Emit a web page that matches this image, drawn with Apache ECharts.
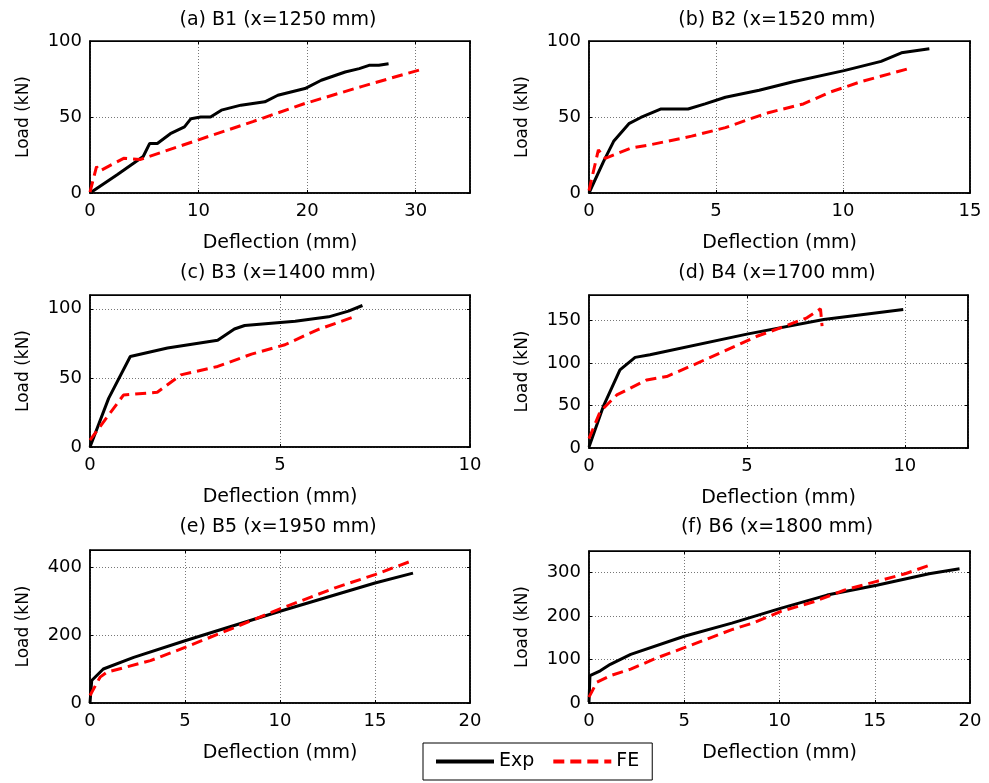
<!DOCTYPE html>
<html>
<head>
<meta charset="utf-8">
<script src="https://cdn.jsdelivr.net/npm/echarts@6/dist/echarts.min.js"></script>
<style>
  html, body { margin: 0; padding: 0; background: #fff; }
  #chart { width: 989px; height: 783px; }
</style>
</head>
<body>
<div id="chart"></div>
<script>
// panel titles
const titles = ['(a) B1 (x=1250 mm)', '(b) B2 (x=1520 mm)', '(c) B3 (x=1400 mm)',
    '(d) B4 (x=1700 mm)', '(e) B5 (x=1950 mm)', '(f) B6 (x=1800 mm)'];

// axis ranges
const xMax = [35, 15, 10, 12, 20, 20];
const xStep = [10, 5, 5, 5, 5, 5];
const yMax = [100, 100, 110, 180, 450, 350];
const yStep = [50, 50, 50, 50, 200, 100];

// experimental curves [deflection mm, load kN]
const expB1 = [[0, 0], [2.5, 12], [4.9, 24], [5.5, 32.6], [6.2, 32.6], [7.4, 39], [8.7, 43.5], [9.3, 48.9],
    [10.2, 50], [11.1, 50], [12.1, 54.5], [13.9, 57.8], [16.1, 60], [17.3, 64.3], [19.8, 68.7],
    [21.3, 74.2], [23.5, 79.6], [24.8, 81.8], [25.7, 84], [26.6, 84], [27.5, 85]];
const expB2 = [[0, 0], [0.57, 20.6], [0.97, 34], [1.57, 45.6], [2.04, 49.7], [2.84, 55.3], [3.9, 55.3],
    [4.57, 58.6], [5.37, 63], [6.7, 67.6], [8.04, 73.2], [10.04, 80.5], [11.5, 86.6], [12.3, 92.2], [13.4, 94.9]];
const expB3 = [[0, 0], [0.49, 35.2], [1.06, 65.5], [2.04, 71.6], [3.36, 77.2], [3.8, 85.4], [4.07, 87.9],
    [5.4, 91], [6.28, 94.2], [6.8, 98.3], [7.17, 102.4]];
const expB4 = [[0, 1.2], [0.45, 48.6], [0.98, 92], [1.46, 106.6], [1.93, 109.7], [5, 134], [7.43, 151.2], [9.95, 163]];
const expB5 = [[0, 0], [0.09, 66], [0.7, 100], [2.3, 134], [5, 183], [10, 270], [15, 353], [17, 382]];
const expB6 = [[0, 2.3], [0.05, 63], [0.59, 74], [1.12, 89], [2.19, 112], [5, 153.8], [7.5, 184], [10.05, 218],
    [12.5, 248.5], [15.1, 271], [17.85, 297.7], [19.45, 309]];

// finite element curves [deflection mm, load kN]
const feB1 = [[0, 0.6], [0.6, 17.3], [0.9, 14.5], [3.1, 22.8], [4.6, 22], [10, 35], [15, 47], [19.8, 58.9],
    [25, 70], [30.8, 81.9]];
const feB2 = [[0, 1.6], [0.37, 28.4], [0.64, 22.8], [1.64, 29.5], [2.44, 31.8], [4.04, 37.4], [5.37, 43],
    [6.3, 48.5], [7.1, 53], [8.44, 58.6], [9.5, 66.4], [10.7, 73.2], [12.64, 82.1]];
const feB3 = [[0, 4.9], [0.88, 37.6], [1.77, 39.6], [2.39, 52.2], [3.36, 58.3], [4.25, 67.2], [5.13, 74],
    [6.0, 85], [6.95, 94.2]];
const feB4 = [[0, 11], [0.35, 42.6], [0.88, 62.4], [1.83, 80.1], [2.46, 84.1], [3.2, 96], [4.26, 113.7],
    [5.32, 131.5], [6.06, 141.3], [6.9, 153.2], [7.33, 163.8], [7.38, 143.3]];
const feB5 = [[0, 22], [0.53, 76], [0.88, 90.5], [3.18, 124.6], [5, 163.5], [7.6, 222], [10, 277],
    [12.9, 338.7], [15, 377.6], [16.96, 418.5]];
const feB6 = [[0, 13.6], [0.41, 47.7], [1.12, 63], [2.19, 78], [3.6, 104.5], [5, 127.3], [7.5, 169], [8.6, 184],
    [10.05, 210.6], [11.8, 233], [13.4, 260], [15, 278.8], [16.6, 297.7], [17.85, 316.7]];

const expData = [expB1, expB2, expB3, expB4, expB5, expB6];
const feData = [feB1, feB2, feB3, feB4, feB5, feB6];

const FONT = 'DejaVu Sans';
const grids = [
    { left: 90, top: 41, width: 380, height: 152 },
    { left: 589, top: 41, width: 381, height: 152 },
    { left: 90, top: 295, width: 380, height: 152 },
    { left: 589, top: 295, width: 379, height: 153 },
    { left: 90, top: 550, width: 380, height: 153 },
    { left: 589, top: 551, width: 381, height: 152 },
];

const xAxes = [], yAxes = [], series = [], graphics = [];
const titleY = [20, 20, 273, 273, 527, 527];

grids.forEach((g, i) => {
    const fmt = step => v => (Math.abs(v % step) < 1e-9 ? String(v) : '');
    xAxes.push({
        show: true, gridIndex: i, type: 'value', position: 'bottom', min: 0, max: xMax[i], interval: xStep[i],
        name: 'Deflection (mm)', nameLocation: 'middle', nameGap: 41,
        nameTextStyle: { fontFamily: FONT, fontSize: 19, color: '#000' },
        axisLine: { onZero: false, lineStyle: { color: '#000', width: 1.5 } },
        axisTick: { inside: true, length: 3, lineStyle: { color: '#000' } },
        axisLabel: { fontFamily: FONT, fontSize: 18, color: '#000', margin: 9, formatter: fmt(xStep[i]) },
        splitLine: { show: true, lineStyle: { color: '#777', width: 1, type: [1, 2] } },
    });
    xAxes.push({
        show: true, gridIndex: i, type: 'value', position: 'top', min: 0, max: xMax[i], interval: xStep[i],
        axisLine: { show: true, onZero: false, lineStyle: { color: '#000', width: 1 } },
        axisTick: { show: true, inside: true, length: 3, lineStyle: { color: '#000' } },
        axisLabel: { show: false }, splitLine: { show: false },
    });
    yAxes.push({
        show: true, gridIndex: i, type: 'value', position: 'left', min: 0, max: yMax[i], interval: yStep[i],
        name: 'Load (kN)', nameLocation: 'middle', nameGap: 58,
        nameTextStyle: { fontFamily: FONT, fontSize: 17, color: '#000' },
        axisLine: { onZero: false, lineStyle: { color: '#000', width: 1.5 } },
        axisTick: { inside: true, length: 3, lineStyle: { color: '#000' } },
        axisLabel: { fontFamily: FONT, fontSize: 18, color: '#000', margin: 8, formatter: fmt(yStep[i]) },
        splitLine: { show: true, lineStyle: { color: '#777', width: 1, type: [1, 2] } },
    });
    yAxes.push({
        show: true, gridIndex: i, type: 'value', position: 'right', min: 0, max: yMax[i], interval: yStep[i],
        axisLine: { show: true, onZero: false, lineStyle: { color: '#000', width: 1.5 } },
        axisTick: { show: true, inside: true, length: 3, lineStyle: { color: '#000' } },
        axisLabel: { show: false }, splitLine: { show: false },
    });
    series.push({
        name: 'Exp', type: 'line', xAxisIndex: 2 * i, yAxisIndex: 2 * i,
        data: expData[i], showSymbol: false, symbol: 'none',
        lineStyle: { color: '#000', width: 3 }, itemStyle: { color: '#000' },
    });
    series.push({
        name: 'FE', type: 'line', xAxisIndex: 2 * i, yAxisIndex: 2 * i,
        data: feData[i], showSymbol: false, symbol: 'none',
        lineStyle: { color: '#ff0000', width: 3, type: [11, 6] }, itemStyle: { color: '#ff0000' },
    });
    graphics.push({
        type: 'text', x: i % 2 === 0 ? 278 : 777, y: titleY[i],
        style: { text: titles[i], font: '19px "DejaVu Sans"', fill: '#000', align: 'center', verticalAlign: 'middle' },
    });
});

const chart = echarts.init(document.getElementById('chart'), null, { renderer: 'canvas' });
chart.setOption({
    animation: false,
    backgroundColor: '#fff',
    textStyle: { fontFamily: FONT },
    grid: grids.map(g => Object.assign({ show: true, borderColor: '#000', borderWidth: 1.5, backgroundColor: 'transparent', containLabel: false }, g)),
    xAxis: xAxes,
    yAxis: yAxes,
    series: series,
    graphic: graphics,
    legend: {
        data: ['Exp', 'FE'],
        left: 423, top: 743,
        orient: 'horizontal',
        itemWidth: 58, itemHeight: 16, itemGap: 17,
        padding: [9, 13, 9, 11],
        itemStyle: { opacity: 0 },
        lineStyle: { width: 4 },
        borderColor: '#000', borderWidth: 1,
        textStyle: { fontFamily: FONT, fontSize: 19, color: '#000' },
    },
});
</script>
</body>
</html>
